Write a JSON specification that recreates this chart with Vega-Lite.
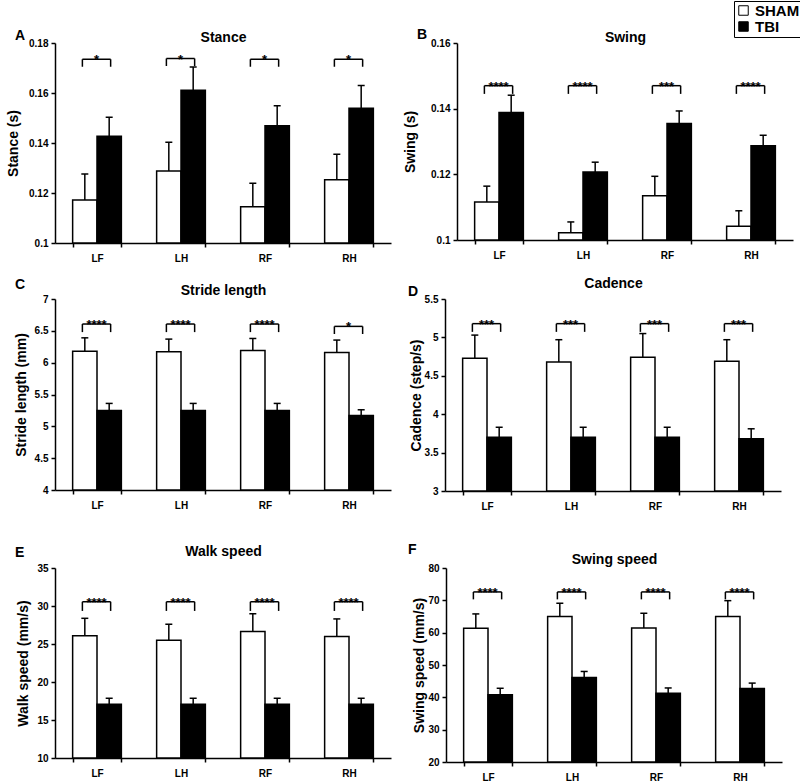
{
  "$schema": "https://vega.github.io/schema/vega-lite/v6.json",
  "padding": {"left": 6, "top": 0, "right": 0, "bottom": 0},
  "config": {
    "font": "Liberation Sans",
    "view": {"stroke": null},
    "axis": {"domainColor": "black", "domainWidth": 1.5, "tickColor": "black", "tickWidth": 1.5, "tickSize": 4, "labelColor": "black", "labelFontSize": 10, "labelFontWeight": "bold", "titleColor": "black", "titleFontSize": 14, "titleFontWeight": "bold", "grid": false, "labelPadding": 3},
    "axisY": {"labelOverlap": false, "format": "~r", "tickCount": 20},
    "title": {"fontSize": 14, "fontWeight": "bold", "color": "black"},
    "legend": {"orient": "none", "legendX": 679, "legendY": -42, "strokeColor": "black", "padding": 2, "symbolType": "square", "symbolSize": 90, "symbolStrokeColor": "black", "symbolStrokeWidth": 1, "labelFontSize": 15, "labelFontWeight": "bold", "labelColor": "black", "rowPadding": 0}
  },
  "datasets": {
    "bars": [
      {"panel": "A", "limb": "LF", "group": "SHAM", "mean": 0.1172, "upper": 0.1276},
      {"panel": "A", "limb": "LF", "group": "TBI", "mean": 0.1427, "upper": 0.1503},
      {"panel": "A", "limb": "LH", "group": "SHAM", "mean": 0.1288, "upper": 0.1403},
      {"panel": "A", "limb": "LH", "group": "TBI", "mean": 0.1611, "upper": 0.1704},
      {"panel": "A", "limb": "RF", "group": "SHAM", "mean": 0.1145, "upper": 0.1239},
      {"panel": "A", "limb": "RF", "group": "TBI", "mean": 0.1469, "upper": 0.1549},
      {"panel": "A", "limb": "RH", "group": "SHAM", "mean": 0.1253, "upper": 0.1355},
      {"panel": "A", "limb": "RH", "group": "TBI", "mean": 0.1539, "upper": 0.163},
      {"panel": "B", "limb": "LF", "group": "SHAM", "mean": 0.1116, "upper": 0.1164},
      {"panel": "B", "limb": "LF", "group": "TBI", "mean": 0.1388, "upper": 0.1441},
      {"panel": "B", "limb": "LH", "group": "SHAM", "mean": 0.1022, "upper": 0.1055},
      {"panel": "B", "limb": "LH", "group": "TBI", "mean": 0.1207, "upper": 0.1237},
      {"panel": "B", "limb": "RF", "group": "SHAM", "mean": 0.1135, "upper": 0.1194},
      {"panel": "B", "limb": "RF", "group": "TBI", "mean": 0.1355, "upper": 0.1393},
      {"panel": "B", "limb": "RH", "group": "SHAM", "mean": 0.1042, "upper": 0.1089},
      {"panel": "B", "limb": "RH", "group": "TBI", "mean": 0.1287, "upper": 0.1319},
      {"panel": "C", "limb": "LF", "group": "SHAM", "mean": 6.18, "upper": 6.39},
      {"panel": "C", "limb": "LF", "group": "TBI", "mean": 5.25, "upper": 5.36},
      {"panel": "C", "limb": "LH", "group": "SHAM", "mean": 6.17, "upper": 6.37},
      {"panel": "C", "limb": "LH", "group": "TBI", "mean": 5.25, "upper": 5.36},
      {"panel": "C", "limb": "RF", "group": "SHAM", "mean": 6.19, "upper": 6.38},
      {"panel": "C", "limb": "RF", "group": "TBI", "mean": 5.25, "upper": 5.36},
      {"panel": "C", "limb": "RH", "group": "SHAM", "mean": 6.16, "upper": 6.355},
      {"panel": "C", "limb": "RH", "group": "TBI", "mean": 5.17, "upper": 5.26},
      {"panel": "D", "limb": "LF", "group": "SHAM", "mean": 4.73, "upper": 5.03},
      {"panel": "D", "limb": "LF", "group": "TBI", "mean": 3.70, "upper": 3.83},
      {"panel": "D", "limb": "LH", "group": "SHAM", "mean": 4.68, "upper": 4.97},
      {"panel": "D", "limb": "LH", "group": "TBI", "mean": 3.70, "upper": 3.83},
      {"panel": "D", "limb": "RF", "group": "SHAM", "mean": 4.74, "upper": 5.05},
      {"panel": "D", "limb": "RF", "group": "TBI", "mean": 3.70, "upper": 3.83},
      {"panel": "D", "limb": "RH", "group": "SHAM", "mean": 4.69, "upper": 4.97},
      {"panel": "D", "limb": "RH", "group": "TBI", "mean": 3.68, "upper": 3.81},
      {"panel": "E", "limb": "LF", "group": "SHAM", "mean": 26.08, "upper": 28.38},
      {"panel": "E", "limb": "LF", "group": "TBI", "mean": 17.08, "upper": 17.86},
      {"panel": "E", "limb": "LH", "group": "SHAM", "mean": 25.48, "upper": 27.6},
      {"panel": "E", "limb": "LH", "group": "TBI", "mean": 17.08, "upper": 17.86},
      {"panel": "E", "limb": "RF", "group": "SHAM", "mean": 26.64, "upper": 28.98},
      {"panel": "E", "limb": "RF", "group": "TBI", "mean": 17.08, "upper": 17.86},
      {"panel": "E", "limb": "RH", "group": "SHAM", "mean": 26.0, "upper": 28.3},
      {"panel": "E", "limb": "RH", "group": "TBI", "mean": 17.08, "upper": 17.86},
      {"panel": "F", "limb": "LF", "group": "SHAM", "mean": 61.35, "upper": 65.8},
      {"panel": "F", "limb": "LF", "group": "TBI", "mean": 40.83, "upper": 42.8},
      {"panel": "F", "limb": "LH", "group": "SHAM", "mean": 64.98, "upper": 69.1},
      {"panel": "F", "limb": "LH", "group": "TBI", "mean": 46.13, "upper": 48.0},
      {"panel": "F", "limb": "RF", "group": "SHAM", "mean": 61.45, "upper": 66.0},
      {"panel": "F", "limb": "RF", "group": "TBI", "mean": 41.25, "upper": 42.9},
      {"panel": "F", "limb": "RH", "group": "SHAM", "mean": 64.98, "upper": 69.9},
      {"panel": "F", "limb": "RH", "group": "TBI", "mean": 42.7, "upper": 44.4}
    ],
    "sig": [
      {"panel": "A", "limb": "LF", "top": 0.1735, "bottom": 0.1705, "stars": "*"},
      {"panel": "A", "limb": "LH", "top": 0.1738, "bottom": 0.1708, "stars": "*"},
      {"panel": "A", "limb": "RF", "top": 0.1735, "bottom": 0.1705, "stars": "*"},
      {"panel": "A", "limb": "RH", "top": 0.1735, "bottom": 0.1705, "stars": "*"},
      {"panel": "B", "limb": "LF", "top": 0.147, "bottom": 0.1445, "stars": "****"},
      {"panel": "B", "limb": "LH", "top": 0.147, "bottom": 0.1445, "stars": "****"},
      {"panel": "B", "limb": "RF", "top": 0.147, "bottom": 0.1445, "stars": "***"},
      {"panel": "B", "limb": "RH", "top": 0.147, "bottom": 0.1445, "stars": "****"},
      {"panel": "C", "limb": "LF", "top": 6.607, "bottom": 6.48, "stars": "****"},
      {"panel": "C", "limb": "LH", "top": 6.607, "bottom": 6.48, "stars": "****"},
      {"panel": "C", "limb": "RF", "top": 6.607, "bottom": 6.48, "stars": "****"},
      {"panel": "C", "limb": "RH", "top": 6.57, "bottom": 6.45, "stars": "*"},
      {"panel": "D", "limb": "LF", "top": 5.179, "bottom": 5.072, "stars": "***"},
      {"panel": "D", "limb": "LH", "top": 5.179, "bottom": 5.072, "stars": "***"},
      {"panel": "D", "limb": "RF", "top": 5.179, "bottom": 5.072, "stars": "***"},
      {"panel": "D", "limb": "RH", "top": 5.179, "bottom": 5.072, "stars": "***"},
      {"panel": "E", "limb": "LF", "top": 30.56, "bottom": 29.35, "stars": "****"},
      {"panel": "E", "limb": "LH", "top": 30.56, "bottom": 29.35, "stars": "****"},
      {"panel": "E", "limb": "RF", "top": 30.56, "bottom": 29.35, "stars": "****"},
      {"panel": "E", "limb": "RH", "top": 30.56, "bottom": 29.35, "stars": "****"},
      {"panel": "F", "limb": "LF", "top": 72.6, "bottom": 70.3, "stars": "****"},
      {"panel": "F", "limb": "LH", "top": 72.6, "bottom": 70.3, "stars": "****"},
      {"panel": "F", "limb": "RF", "top": 72.6, "bottom": 70.3, "stars": "****"},
      {"panel": "F", "limb": "RH", "top": 72.6, "bottom": 70.3, "stars": "****"}
    ]
  },
  "spacing": 31,
  "vconcat": [
    {
      "spacing": 13,
      "vconcat": [
        {
          "spacing": 12,
          "hconcat": [
            {
              "width": 336, "height": 200,
              "title": {"text": "A", "anchor": "start", "frame": "group", "dx": -40, "offset": -13},
              "resolve": {"axis": {"x": "independent"}},
              "layer": [
                {"data": {"name": "bars"}, "transform": [{"filter": "datum.panel === 'A'"}], "mark": {"type": "bar", "stroke": "black", "strokeWidth": 1.5},
                 "encoding": {
                   "x": {"field": "limb", "type": "nominal", "sort": ["LF", "LH", "RF", "RH"], "scale": {"paddingInner": 0.42, "paddingOuter": 0.21}, "axis": {"orient": "bottom", "title": null, "labelAngle": 0, "tickBand": "extent", "labelPadding": 6}},
                   "xOffset": {"field": "group", "sort": ["SHAM", "TBI"], "scale": {"paddingInner": 0, "paddingOuter": 0}},
                   "y": {"field": "mean", "type": "quantitative", "scale": {"domain": [0.1, 0.18], "zero": false, "nice": false}, "axis": {"title": "Stance (s)", "values": [0.1, 0.12, 0.14, 0.16, 0.18], "tickCount": 20, "titlePadding": 8}},
                   "y2": {"datum": 0.1},
                   "fill": {"field": "group", "type": "nominal", "scale": {"domain": ["SHAM", "TBI"], "range": ["white", "black"]}, "legend": {"title": null}}
                 }},
                {"data": {"name": "bars"}, "transform": [{"filter": "datum.panel === 'A'"}], "mark": {"type": "rule", "strokeWidth": 1.5, "color": "black"},
                 "encoding": {"x": {"field": "limb", "type": "nominal", "sort": ["LF", "LH", "RF", "RH"], "axis": null}, "xOffset": {"field": "group", "sort": ["SHAM", "TBI"]}, "y": {"field": "mean", "type": "quantitative"}, "y2": {"field": "upper"}}},
                {"data": {"name": "bars"}, "transform": [{"filter": "datum.panel === 'A'"}], "mark": {"type": "tick", "thickness": 1.5, "size": 7, "color": "black", "opacity": 1},
                 "encoding": {"x": {"field": "limb", "type": "nominal", "sort": ["LF", "LH", "RF", "RH"], "axis": {"orient": "top", "title": "Stance", "labels": false, "ticks": false, "domain": false, "titlePadding": -1}}, "xOffset": {"field": "group", "sort": ["SHAM", "TBI"]}, "y": {"field": "upper", "type": "quantitative"}}},
                {"data": {"name": "sig"}, "transform": [{"filter": "datum.panel === 'A'"}], "mark": {"type": "rule", "strokeWidth": 1.5, "color": "black"},
                 "encoding": {"x": {"field": "limb", "type": "nominal", "sort": ["LF", "LH", "RF", "RH"], "bandPosition": 0.2, "axis": null}, "x2": {"field": "limb", "bandPosition": 0.78}, "y": {"field": "top", "type": "quantitative"}}},
                {"data": {"name": "sig"}, "transform": [{"filter": "datum.panel === 'A'"}], "mark": {"type": "rule", "strokeWidth": 1.5, "color": "black"},
                 "encoding": {"x": {"field": "limb", "type": "nominal", "sort": ["LF", "LH", "RF", "RH"], "bandPosition": 0.2, "axis": null}, "y": {"field": "top", "type": "quantitative"}, "y2": {"field": "bottom"}}},
                {"data": {"name": "sig"}, "transform": [{"filter": "datum.panel === 'A'"}], "mark": {"type": "rule", "strokeWidth": 1.5, "color": "black"},
                 "encoding": {"x": {"field": "limb", "type": "nominal", "sort": ["LF", "LH", "RF", "RH"], "bandPosition": 0.78, "axis": null}, "y": {"field": "top", "type": "quantitative"}, "y2": {"field": "bottom"}}},
                {"data": {"name": "sig"}, "transform": [{"filter": "datum.panel === 'A'"}], "mark": {"type": "text", "fontWeight": "bold", "fontSize": 13, "baseline": "alphabetic", "dy": 5, "color": "black"},
                 "encoding": {"x": {"field": "limb", "type": "nominal", "sort": ["LF", "LH", "RF", "RH"], "bandPosition": 0.49, "axis": null}, "y": {"field": "top", "type": "quantitative"}, "text": {"field": "stars"}}}
              ]
            },
            {
              "width": 336, "height": 197,
              "title": {"text": "B", "anchor": "start", "frame": "group", "dx": -40, "offset": -12},
              "resolve": {"axis": {"x": "independent"}},
              "layer": [
                {"data": {"name": "bars"}, "transform": [{"filter": "datum.panel === 'B'"}], "mark": {"type": "bar", "stroke": "black", "strokeWidth": 1.5},
                 "encoding": {
                   "x": {"field": "limb", "type": "nominal", "sort": ["LF", "LH", "RF", "RH"], "scale": {"paddingInner": 0.42, "paddingOuter": 0.21}, "axis": {"orient": "bottom", "title": null, "labelAngle": 0, "tickBand": "extent", "labelPadding": 6}},
                   "xOffset": {"field": "group", "sort": ["SHAM", "TBI"], "scale": {"paddingInner": 0, "paddingOuter": 0}},
                   "y": {"field": "mean", "type": "quantitative", "scale": {"domain": [0.1, 0.16], "zero": false, "nice": false}, "axis": {"title": "Swing (s)", "values": [0.1, 0.12, 0.14, 0.16], "tickCount": 20, "titlePadding": 13}},
                   "y2": {"datum": 0.1},
                   "fill": {"field": "group", "type": "nominal", "scale": {"domain": ["SHAM", "TBI"], "range": ["white", "black"]}, "legend": {"title": null}}
                 }},
                {"data": {"name": "bars"}, "transform": [{"filter": "datum.panel === 'B'"}], "mark": {"type": "rule", "strokeWidth": 1.5, "color": "black"},
                 "encoding": {"x": {"field": "limb", "type": "nominal", "sort": ["LF", "LH", "RF", "RH"], "axis": null}, "xOffset": {"field": "group", "sort": ["SHAM", "TBI"]}, "y": {"field": "mean", "type": "quantitative"}, "y2": {"field": "upper"}}},
                {"data": {"name": "bars"}, "transform": [{"filter": "datum.panel === 'B'"}], "mark": {"type": "tick", "thickness": 1.5, "size": 7, "color": "black", "opacity": 1},
                 "encoding": {"x": {"field": "limb", "type": "nominal", "sort": ["LF", "LH", "RF", "RH"], "axis": {"orient": "top", "title": "Swing", "labels": false, "ticks": false, "domain": false, "titlePadding": -1}}, "xOffset": {"field": "group", "sort": ["SHAM", "TBI"]}, "y": {"field": "upper", "type": "quantitative"}}},
                {"data": {"name": "sig"}, "transform": [{"filter": "datum.panel === 'B'"}], "mark": {"type": "rule", "strokeWidth": 1.5, "color": "black"},
                 "encoding": {"x": {"field": "limb", "type": "nominal", "sort": ["LF", "LH", "RF", "RH"], "bandPosition": 0.2, "axis": null}, "x2": {"field": "limb", "bandPosition": 0.78}, "y": {"field": "top", "type": "quantitative"}}},
                {"data": {"name": "sig"}, "transform": [{"filter": "datum.panel === 'B'"}], "mark": {"type": "rule", "strokeWidth": 1.5, "color": "black"},
                 "encoding": {"x": {"field": "limb", "type": "nominal", "sort": ["LF", "LH", "RF", "RH"], "bandPosition": 0.2, "axis": null}, "y": {"field": "top", "type": "quantitative"}, "y2": {"field": "bottom"}}},
                {"data": {"name": "sig"}, "transform": [{"filter": "datum.panel === 'B'"}], "mark": {"type": "rule", "strokeWidth": 1.5, "color": "black"},
                 "encoding": {"x": {"field": "limb", "type": "nominal", "sort": ["LF", "LH", "RF", "RH"], "bandPosition": 0.78, "axis": null}, "y": {"field": "top", "type": "quantitative"}, "y2": {"field": "bottom"}}},
                {"data": {"name": "sig"}, "transform": [{"filter": "datum.panel === 'B'"}], "mark": {"type": "text", "fontWeight": "bold", "fontSize": 13, "baseline": "alphabetic", "dy": 5, "color": "black"},
                 "encoding": {"x": {"field": "limb", "type": "nominal", "sort": ["LF", "LH", "RF", "RH"], "bandPosition": 0.49, "axis": null}, "y": {"field": "top", "type": "quantitative"}, "text": {"field": "stars"}}}
              ]
            }
          ]
        },
        {
          "spacing": 17,
          "hconcat": [
            {
              "width": 336, "height": 191,
              "title": {"text": "C", "anchor": "start", "frame": "group", "dx": -40, "offset": -9},
              "resolve": {"axis": {"x": "independent"}},
              "layer": [
                {"data": {"name": "bars"}, "transform": [{"filter": "datum.panel === 'C'"}], "mark": {"type": "bar", "stroke": "black", "strokeWidth": 1.5},
                 "encoding": {
                   "x": {"field": "limb", "type": "nominal", "sort": ["LF", "LH", "RF", "RH"], "scale": {"paddingInner": 0.42, "paddingOuter": 0.21}, "axis": {"orient": "bottom", "title": null, "labelAngle": 0, "tickBand": "extent", "labelPadding": 6}},
                   "xOffset": {"field": "group", "sort": ["SHAM", "TBI"], "scale": {"paddingInner": 0, "paddingOuter": 0}},
                   "y": {"field": "mean", "type": "quantitative", "scale": {"domain": [4, 7], "zero": false, "nice": false}, "axis": {"title": "Stride length (mm)", "values": [4, 4.5, 5, 5.5, 6, 6.5, 7], "tickCount": 20, "titlePadding": 6}},
                   "y2": {"datum": 4},
                   "fill": {"field": "group", "type": "nominal", "scale": {"domain": ["SHAM", "TBI"], "range": ["white", "black"]}, "legend": {"title": null}}
                 }},
                {"data": {"name": "bars"}, "transform": [{"filter": "datum.panel === 'C'"}], "mark": {"type": "rule", "strokeWidth": 1.5, "color": "black"},
                 "encoding": {"x": {"field": "limb", "type": "nominal", "sort": ["LF", "LH", "RF", "RH"], "axis": null}, "xOffset": {"field": "group", "sort": ["SHAM", "TBI"]}, "y": {"field": "mean", "type": "quantitative"}, "y2": {"field": "upper"}}},
                {"data": {"name": "bars"}, "transform": [{"filter": "datum.panel === 'C'"}], "mark": {"type": "tick", "thickness": 1.5, "size": 7, "color": "black", "opacity": 1},
                 "encoding": {"x": {"field": "limb", "type": "nominal", "sort": ["LF", "LH", "RF", "RH"], "axis": {"orient": "top", "title": "Stride length", "labels": false, "ticks": false, "domain": false, "titlePadding": 2}}, "xOffset": {"field": "group", "sort": ["SHAM", "TBI"]}, "y": {"field": "upper", "type": "quantitative"}}},
                {"data": {"name": "sig"}, "transform": [{"filter": "datum.panel === 'C'"}], "mark": {"type": "rule", "strokeWidth": 1.5, "color": "black"},
                 "encoding": {"x": {"field": "limb", "type": "nominal", "sort": ["LF", "LH", "RF", "RH"], "bandPosition": 0.2, "axis": null}, "x2": {"field": "limb", "bandPosition": 0.78}, "y": {"field": "top", "type": "quantitative"}}},
                {"data": {"name": "sig"}, "transform": [{"filter": "datum.panel === 'C'"}], "mark": {"type": "rule", "strokeWidth": 1.5, "color": "black"},
                 "encoding": {"x": {"field": "limb", "type": "nominal", "sort": ["LF", "LH", "RF", "RH"], "bandPosition": 0.2, "axis": null}, "y": {"field": "top", "type": "quantitative"}, "y2": {"field": "bottom"}}},
                {"data": {"name": "sig"}, "transform": [{"filter": "datum.panel === 'C'"}], "mark": {"type": "rule", "strokeWidth": 1.5, "color": "black"},
                 "encoding": {"x": {"field": "limb", "type": "nominal", "sort": ["LF", "LH", "RF", "RH"], "bandPosition": 0.78, "axis": null}, "y": {"field": "top", "type": "quantitative"}, "y2": {"field": "bottom"}}},
                {"data": {"name": "sig"}, "transform": [{"filter": "datum.panel === 'C'"}], "mark": {"type": "text", "fontWeight": "bold", "fontSize": 13, "baseline": "alphabetic", "dy": 5, "color": "black"},
                 "encoding": {"x": {"field": "limb", "type": "nominal", "sort": ["LF", "LH", "RF", "RH"], "bandPosition": 0.49, "axis": null}, "y": {"field": "top", "type": "quantitative"}, "text": {"field": "stars"}}}
              ]
            },
            {
              "width": 336, "height": 192,
              "title": {"text": "D", "anchor": "start", "frame": "group", "dx": -37, "offset": -23},
              "resolve": {"axis": {"x": "independent"}},
              "layer": [
                {"data": {"name": "bars"}, "transform": [{"filter": "datum.panel === 'D'"}], "mark": {"type": "bar", "stroke": "black", "strokeWidth": 1.5},
                 "encoding": {
                   "x": {"field": "limb", "type": "nominal", "sort": ["LF", "LH", "RF", "RH"], "scale": {"paddingInner": 0.42, "paddingOuter": 0.21}, "axis": {"orient": "bottom", "title": null, "labelAngle": 0, "tickBand": "extent", "labelPadding": 6}},
                   "xOffset": {"field": "group", "sort": ["SHAM", "TBI"], "scale": {"paddingInner": 0, "paddingOuter": 0}},
                   "y": {"field": "mean", "type": "quantitative", "scale": {"domain": [3, 5.5], "zero": false, "nice": false}, "axis": {"title": "Cadence (step/s)", "values": [3, 3.5, 4, 4.5, 5, 5.5], "tickCount": 20, "titlePadding": 1}},
                   "y2": {"datum": 3},
                   "fill": {"field": "group", "type": "nominal", "scale": {"domain": ["SHAM", "TBI"], "range": ["white", "black"]}, "legend": {"title": null}}
                 }},
                {"data": {"name": "bars"}, "transform": [{"filter": "datum.panel === 'D'"}], "mark": {"type": "rule", "strokeWidth": 1.5, "color": "black"},
                 "encoding": {"x": {"field": "limb", "type": "nominal", "sort": ["LF", "LH", "RF", "RH"], "axis": null}, "xOffset": {"field": "group", "sort": ["SHAM", "TBI"]}, "y": {"field": "mean", "type": "quantitative"}, "y2": {"field": "upper"}}},
                {"data": {"name": "bars"}, "transform": [{"filter": "datum.panel === 'D'"}], "mark": {"type": "tick", "thickness": 1.5, "size": 7, "color": "black", "opacity": 1},
                 "encoding": {"x": {"field": "limb", "type": "nominal", "sort": ["LF", "LH", "RF", "RH"], "axis": {"orient": "top", "title": "Cadence", "labels": false, "ticks": false, "domain": false, "titlePadding": 9}}, "xOffset": {"field": "group", "sort": ["SHAM", "TBI"]}, "y": {"field": "upper", "type": "quantitative"}}},
                {"data": {"name": "sig"}, "transform": [{"filter": "datum.panel === 'D'"}], "mark": {"type": "rule", "strokeWidth": 1.5, "color": "black"},
                 "encoding": {"x": {"field": "limb", "type": "nominal", "sort": ["LF", "LH", "RF", "RH"], "bandPosition": 0.2, "axis": null}, "x2": {"field": "limb", "bandPosition": 0.78}, "y": {"field": "top", "type": "quantitative"}}},
                {"data": {"name": "sig"}, "transform": [{"filter": "datum.panel === 'D'"}], "mark": {"type": "rule", "strokeWidth": 1.5, "color": "black"},
                 "encoding": {"x": {"field": "limb", "type": "nominal", "sort": ["LF", "LH", "RF", "RH"], "bandPosition": 0.2, "axis": null}, "y": {"field": "top", "type": "quantitative"}, "y2": {"field": "bottom"}}},
                {"data": {"name": "sig"}, "transform": [{"filter": "datum.panel === 'D'"}], "mark": {"type": "rule", "strokeWidth": 1.5, "color": "black"},
                 "encoding": {"x": {"field": "limb", "type": "nominal", "sort": ["LF", "LH", "RF", "RH"], "bandPosition": 0.78, "axis": null}, "y": {"field": "top", "type": "quantitative"}, "y2": {"field": "bottom"}}},
                {"data": {"name": "sig"}, "transform": [{"filter": "datum.panel === 'D'"}], "mark": {"type": "text", "fontWeight": "bold", "fontSize": 13, "baseline": "alphabetic", "dy": 5, "color": "black"},
                 "encoding": {"x": {"field": "limb", "type": "nominal", "sort": ["LF", "LH", "RF", "RH"], "bandPosition": 0.49, "axis": null}, "y": {"field": "top", "type": "quantitative"}, "text": {"field": "stars"}}}
              ]
            }
          ]
        }
      ]
    },
    {
      "spacing": 17,
      "hconcat": [
        {
          "width": 336, "height": 190,
          "title": {"text": "E", "anchor": "start", "frame": "group", "dx": -40, "offset": -15},
          "resolve": {"axis": {"x": "independent"}},
          "layer": [
            {"data": {"name": "bars"}, "transform": [{"filter": "datum.panel === 'E'"}], "mark": {"type": "bar", "stroke": "black", "strokeWidth": 1.5},
             "encoding": {
               "x": {"field": "limb", "type": "nominal", "sort": ["LF", "LH", "RF", "RH"], "scale": {"paddingInner": 0.42, "paddingOuter": 0.21}, "axis": {"orient": "bottom", "title": null, "labelAngle": 0, "tickBand": "extent", "labelPadding": 6}},
               "xOffset": {"field": "group", "sort": ["SHAM", "TBI"], "scale": {"paddingInner": 0, "paddingOuter": 0}},
               "y": {"field": "mean", "type": "quantitative", "scale": {"domain": [10, 35], "zero": false, "nice": false}, "axis": {"title": "Walk speed (mm/s)", "values": [10, 15, 20, 25, 30, 35], "tickCount": 20, "titlePadding": 6}},
               "y2": {"datum": 10},
               "fill": {"field": "group", "type": "nominal", "scale": {"domain": ["SHAM", "TBI"], "range": ["white", "black"]}, "legend": {"title": null}}
             }},
            {"data": {"name": "bars"}, "transform": [{"filter": "datum.panel === 'E'"}], "mark": {"type": "rule", "strokeWidth": 1.5, "color": "black"},
             "encoding": {"x": {"field": "limb", "type": "nominal", "sort": ["LF", "LH", "RF", "RH"], "axis": null}, "xOffset": {"field": "group", "sort": ["SHAM", "TBI"]}, "y": {"field": "mean", "type": "quantitative"}, "y2": {"field": "upper"}}},
            {"data": {"name": "bars"}, "transform": [{"filter": "datum.panel === 'E'"}], "mark": {"type": "tick", "thickness": 1.5, "size": 7, "color": "black", "opacity": 1},
             "encoding": {"x": {"field": "limb", "type": "nominal", "sort": ["LF", "LH", "RF", "RH"], "axis": {"orient": "top", "title": "Walk speed", "labels": false, "ticks": false, "domain": false, "titlePadding": 9.5}}, "xOffset": {"field": "group", "sort": ["SHAM", "TBI"]}, "y": {"field": "upper", "type": "quantitative"}}},
            {"data": {"name": "sig"}, "transform": [{"filter": "datum.panel === 'E'"}], "mark": {"type": "rule", "strokeWidth": 1.5, "color": "black"},
             "encoding": {"x": {"field": "limb", "type": "nominal", "sort": ["LF", "LH", "RF", "RH"], "bandPosition": 0.2, "axis": null}, "x2": {"field": "limb", "bandPosition": 0.78}, "y": {"field": "top", "type": "quantitative"}}},
            {"data": {"name": "sig"}, "transform": [{"filter": "datum.panel === 'E'"}], "mark": {"type": "rule", "strokeWidth": 1.5, "color": "black"},
             "encoding": {"x": {"field": "limb", "type": "nominal", "sort": ["LF", "LH", "RF", "RH"], "bandPosition": 0.2, "axis": null}, "y": {"field": "top", "type": "quantitative"}, "y2": {"field": "bottom"}}},
            {"data": {"name": "sig"}, "transform": [{"filter": "datum.panel === 'E'"}], "mark": {"type": "rule", "strokeWidth": 1.5, "color": "black"},
             "encoding": {"x": {"field": "limb", "type": "nominal", "sort": ["LF", "LH", "RF", "RH"], "bandPosition": 0.78, "axis": null}, "y": {"field": "top", "type": "quantitative"}, "y2": {"field": "bottom"}}},
            {"data": {"name": "sig"}, "transform": [{"filter": "datum.panel === 'E'"}], "mark": {"type": "text", "fontWeight": "bold", "fontSize": 13, "baseline": "alphabetic", "dy": 5, "color": "black"},
             "encoding": {"x": {"field": "limb", "type": "nominal", "sort": ["LF", "LH", "RF", "RH"], "bandPosition": 0.49, "axis": null}, "y": {"field": "top", "type": "quantitative"}, "text": {"field": "stars"}}}
          ]
        },
        {
          "width": 336, "height": 194,
          "title": {"text": "F", "anchor": "start", "frame": "group", "dx": -38, "offset": -4},
          "resolve": {"axis": {"x": "independent"}},
          "layer": [
            {"data": {"name": "bars"}, "transform": [{"filter": "datum.panel === 'F'"}], "mark": {"type": "bar", "stroke": "black", "strokeWidth": 1.5},
             "encoding": {
               "x": {"field": "limb", "type": "nominal", "sort": ["LF", "LH", "RF", "RH"], "scale": {"paddingInner": 0.42, "paddingOuter": 0.21}, "axis": {"orient": "bottom", "title": null, "labelAngle": 0, "tickBand": "extent", "labelPadding": 6}},
               "xOffset": {"field": "group", "sort": ["SHAM", "TBI"], "scale": {"paddingInner": 0, "paddingOuter": 0}},
               "y": {"field": "mean", "type": "quantitative", "scale": {"domain": [20, 80], "zero": false, "nice": false}, "axis": {"title": "Swing speed (mm/s)", "values": [20, 30, 40, 50, 60, 70, 80], "tickCount": 20, "titlePadding": 1}},
               "y2": {"datum": 20},
               "fill": {"field": "group", "type": "nominal", "scale": {"domain": ["SHAM", "TBI"], "range": ["white", "black"]}, "legend": {"title": null}}
             }},
            {"data": {"name": "bars"}, "transform": [{"filter": "datum.panel === 'F'"}], "mark": {"type": "rule", "strokeWidth": 1.5, "color": "black"},
             "encoding": {"x": {"field": "limb", "type": "nominal", "sort": ["LF", "LH", "RF", "RH"], "axis": null}, "xOffset": {"field": "group", "sort": ["SHAM", "TBI"]}, "y": {"field": "mean", "type": "quantitative"}, "y2": {"field": "upper"}}},
            {"data": {"name": "bars"}, "transform": [{"filter": "datum.panel === 'F'"}], "mark": {"type": "tick", "thickness": 1.5, "size": 7, "color": "black", "opacity": 1},
             "encoding": {"x": {"field": "limb", "type": "nominal", "sort": ["LF", "LH", "RF", "RH"], "axis": {"orient": "top", "title": "Swing speed", "labels": false, "ticks": false, "domain": false, "titlePadding": 1.5}}, "xOffset": {"field": "group", "sort": ["SHAM", "TBI"]}, "y": {"field": "upper", "type": "quantitative"}}},
            {"data": {"name": "sig"}, "transform": [{"filter": "datum.panel === 'F'"}], "mark": {"type": "rule", "strokeWidth": 1.5, "color": "black"},
             "encoding": {"x": {"field": "limb", "type": "nominal", "sort": ["LF", "LH", "RF", "RH"], "bandPosition": 0.2, "axis": null}, "x2": {"field": "limb", "bandPosition": 0.78}, "y": {"field": "top", "type": "quantitative"}}},
            {"data": {"name": "sig"}, "transform": [{"filter": "datum.panel === 'F'"}], "mark": {"type": "rule", "strokeWidth": 1.5, "color": "black"},
             "encoding": {"x": {"field": "limb", "type": "nominal", "sort": ["LF", "LH", "RF", "RH"], "bandPosition": 0.2, "axis": null}, "y": {"field": "top", "type": "quantitative"}, "y2": {"field": "bottom"}}},
            {"data": {"name": "sig"}, "transform": [{"filter": "datum.panel === 'F'"}], "mark": {"type": "rule", "strokeWidth": 1.5, "color": "black"},
             "encoding": {"x": {"field": "limb", "type": "nominal", "sort": ["LF", "LH", "RF", "RH"], "bandPosition": 0.78, "axis": null}, "y": {"field": "top", "type": "quantitative"}, "y2": {"field": "bottom"}}},
            {"data": {"name": "sig"}, "transform": [{"filter": "datum.panel === 'F'"}], "mark": {"type": "text", "fontWeight": "bold", "fontSize": 13, "baseline": "alphabetic", "dy": 5, "color": "black"},
             "encoding": {"x": {"field": "limb", "type": "nominal", "sort": ["LF", "LH", "RF", "RH"], "bandPosition": 0.49, "axis": null}, "y": {"field": "top", "type": "quantitative"}, "text": {"field": "stars"}}}
          ]
        }
      ]
    }
  ]
}
